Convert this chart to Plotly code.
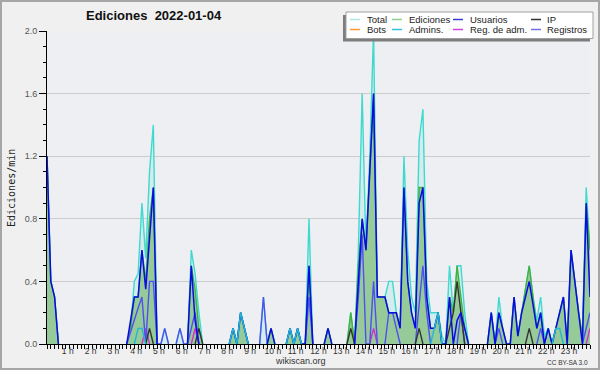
import plotly.graph_objects as go

# ---------------- data (edits per minute, 10-minute slots, 2022-01-04) ----------------
slots = list(range(144))                      # 00:00 ... 23:50, one slot = 10 min
hour_ticks = list(range(1, 24))
hour_labels = [f"{h} h" for h in hour_ticks]

total = [
    1.2, 0.4, 0.3, 0, 0, 0,
    0, 0, 0, 0, 0, 0,
    0, 0, 0, 0, 0, 0,
    0, 0, 0, 0, 0.1, 0.4,
    0.45, 0.9, 0.55, 1.1, 1.4, 0,
    0, 0.1, 0, 0, 0, 0.1,
    0, 0, 0.6, 0.45, 0.2, 0,
    0, 0, 0, 0, 0, 0,
    0, 0.1, 0, 0.2, 0.1, 0,
    0, 0, 0, 0.3, 0, 0.1,
    0, 0, 0, 0, 0.1, 0,
    0.1, 0, 0, 0.8, 0, 0,
    0, 0, 0.1, 0, 0, 0,
    0, 0, 0.2, 0, 0.6, 1.6,
    0.6, 1.2, 2.0, 0.3, 0.3, 0.3,
    0.4, 0.4, 0.2, 0.1, 1.2, 0.6,
    0.3, 0.2, 1.3, 1.5, 0.4, 0.2,
    0.2, 0.2, 0.05, 0, 0.5, 0.2,
    0.5, 0.5, 0.2, 0, 0, 0,
    0, 0, 0, 0.2, 0, 0.3,
    0.1, 0, 0, 0.3, 0.05, 0.2,
    0.35, 0.5, 0.3, 0.15, 0.3, 0.05,
    0.1, 0, 0.1, 0.2, 0.3, 0,
    0.6, 0.4, 0.2, 0.05, 1.0, 0.6,
]
ediciones = [
    1.2, 0.4, 0.3, 0, 0, 0,
    0, 0, 0, 0, 0, 0,
    0, 0, 0, 0, 0, 0,
    0, 0, 0, 0, 0.1, 0.3,
    0.3, 0.6, 0.4, 0.8, 1.0, 0,
    0, 0, 0, 0, 0, 0,
    0, 0, 0.5, 0.35, 0.1, 0,
    0, 0, 0, 0, 0, 0,
    0, 0.1, 0, 0.2, 0.1, 0,
    0, 0, 0, 0, 0, 0.1,
    0, 0, 0, 0, 0.1, 0,
    0.1, 0, 0, 0.5, 0, 0,
    0, 0, 0.1, 0, 0, 0,
    0, 0, 0.2, 0, 0.5, 0.8,
    0.6, 1.1, 1.6, 0.3, 0.3, 0.3,
    0.2, 0.2, 0.2, 0.1, 1.0, 0.4,
    0.2, 0.1, 1.0, 1.0, 0.3, 0.1,
    0.1, 0.2, 0, 0, 0.3, 0.2,
    0.5, 0.3, 0.1, 0, 0, 0,
    0, 0, 0, 0.2, 0, 0.2,
    0.1, 0, 0, 0.3, 0.05, 0.2,
    0.35, 0.5, 0.3, 0.1, 0.2, 0,
    0.1, 0, 0.1, 0.2, 0.3, 0,
    0.6, 0.4, 0.2, 0.05, 0.9, 0.6,
]
usuarios = [
    1.2, 0.4, 0.3, 0, 0, 0,
    0, 0, 0, 0, 0, 0,
    0, 0, 0, 0, 0, 0,
    0, 0, 0, 0, 0.15, 0.3,
    0.3, 0.6, 0.35, 0.7, 1.0, 0,
    0, 0, 0, 0, 0, 0,
    0, 0, 0.5, 0.15, 0, 0,
    0, 0, 0, 0, 0, 0,
    0, 0.1, 0, 0.2, 0.1, 0,
    0, 0, 0, 0, 0, 0.1,
    0, 0, 0, 0, 0.1, 0,
    0.1, 0, 0, 0.5, 0, 0,
    0, 0, 0.1, 0, 0, 0,
    0, 0, 0, 0, 0.4, 0.8,
    0.6, 1.1, 1.6, 0.3, 0.3, 0.3,
    0.2, 0.2, 0.2, 0.1, 1.0, 0.4,
    0.2, 0.1, 0.9, 1.0, 0.3, 0.1,
    0.1, 0.2, 0, 0, 0.3, 0,
    0.15, 0.2, 0.1, 0, 0, 0,
    0, 0, 0, 0.2, 0, 0.2,
    0.1, 0, 0, 0.3, 0.05, 0.2,
    0.3, 0.4, 0.25, 0.1, 0.2, 0,
    0.1, 0, 0.1, 0.2, 0.3, 0,
    0.6, 0.4, 0.2, 0, 0.9, 0.3,
]
ip = [0] * 144
ip_nonzero = {27: 0.1, 40: 0.1, 80: 0.1, 98: 0.1, 106: 0.1, 107: 0.2, 108: 0.4, 109: 0.2, 127: 0.1}
bots = [0] * 144
admins = [0] * 144
admins_nonzero = {24: 0.1, 25: 0.1, 49: 0.1, 51: 0.2, 52: 0.1, 64: 0.1, 66: 0.1,
                  102: 0.1, 103: 0.2, 134: 0.1, 135: 0.1}
reg_adm = [0] * 144
reg_adm_nonzero = {26: 0.1, 39: 0.1, 86: 0.1, 143: 0.1}
registros = [0] * 144
registros_nonzero = {22: 0.08, 23: 0.15, 24: 0.23, 25: 0.3, 27: 0.4, 28: 0.4, 31: 0.1, 35: 0.1,
                     38: 0.1, 39: 0.2, 57: 0.3, 69: 0.3, 82: 0.3, 83: 0.7, 86: 0.4, 90: 0.2,
                     91: 0.2, 92: 0.1, 98: 0.25, 99: 0.5, 100: 0.2, 109: 0.2, 119: 0.1,
                     130: 0.1, 142: 0.1, 143: 0.2}
for k, v in ip_nonzero.items():
    ip[k] = v
for k, v in admins_nonzero.items():
    admins[k] = v
for k, v in reg_adm_nonzero.items():
    reg_adm[k] = v
for k, v in registros_nonzero.items():
    registros[k] = v

legend_names = ["Total", "Ediciones", "Usuarios", "IP", "Bots", "Admins.", "Reg. de adm.", "Registros"]

# ---------------- helpers ----------------
hours = [s / 6 for s in slots]
L, R, T, B = 47, 10, 31, 26
W, H = 600, 370
PW, PH = W - L - R, H - T - B


def px(xp):
    return (xp - L) / PW


def py(yp):
    return (H - B - yp) / PH


def mask(v):
    out = []
    n = len(v)
    for i in range(n):
        left = v[i - 1] if i > 0 else 0
        right = v[i + 1] if i < n - 1 else 0
        out.append(None if (v[i] == 0 and left == 0 and right == 0) else v[i])
    return out


fig = go.Figure()

fig.add_trace(go.Scatter(x=hours, y=mask(total), name="Total", mode="lines",
                         line=dict(color="#3fd9cf", width=1.4), fill="tozeroy",
                         fillcolor="#d5ecef", connectgaps=False))
fig.add_trace(go.Scatter(x=hours, y=mask(ediciones), name="Ediciones", mode="lines",
                         line=dict(color="#3fb23f", width=1.4), fill="tozeroy",
                         fillcolor="#96ca98", connectgaps=False))
fig.add_trace(go.Scatter(x=hours, y=mask(bots), name="Bots", mode="lines",
                         line=dict(color="#ff9933", width=1.4)))
fig.add_trace(go.Scatter(x=hours, y=mask(reg_adm), name="Reg. de adm.", mode="lines",
                         line=dict(color="#cc33cc", width=1.4)))
fig.add_trace(go.Scatter(x=hours, y=mask(registros), name="Registros", mode="lines",
                         line=dict(color="#5050f0", width=1.4)))
fig.add_trace(go.Scatter(x=hours, y=mask(ip), name="IP", mode="lines",
                         line=dict(color="#333333", width=1.4)))
fig.add_trace(go.Scatter(x=hours, y=mask(usuarios), name="Usuarios", mode="lines",
                         line=dict(color="#0a0ae6", width=1.5)))
fig.add_trace(go.Scatter(x=hours, y=mask(admins), name="Admins.", mode="lines",
                         line=dict(color="#1fb8da", width=1.4)))

fig.update_layout(
    width=W, height=H, showlegend=False,
    margin=dict(l=L, r=R, t=T, b=B, pad=0),
    paper_bgcolor="#f0f0f0", plot_bgcolor="#eeeff2",
    font=dict(family="Liberation Sans, Arial, sans-serif", color="#333"),
)
fig.update_xaxes(
    range=[0, hours[-1]], showgrid=False, zeroline=False,
    showline=True, linecolor="#000", linewidth=1,
    tickmode="array", tickvals=hour_ticks, ticktext=hour_labels,
    ticks="outside", ticklen=4, tickcolor="#000", tickwidth=1,
    tickfont=dict(size=8.5, color="#333"), ticklabelshift=-2, ticklabelstandoff=-5,
    minor=dict(tickmode="linear", tick0=0, dtick=1 / 6, ticks="outside", ticklen=4,
               tickcolor="#000", tickwidth=1, showgrid=False),
)
fig.update_yaxes(
    range=[0, 2.0], dtick=0.4, tick0=0, tickformat=".1f",
    showgrid=True, gridcolor="#cccccc", gridwidth=1, zeroline=False,
    showline=True, linecolor="#000", linewidth=1,
    ticks="outside", ticklen=7, tickcolor="#000", tickwidth=1,
    tickfont=dict(size=9, color="#555"),
    minor=dict(dtick=0.1, ticks="outside", ticklen=3, tickcolor="#000", tickwidth=1, showgrid=False),
)

shapes = []
annotations = []
# outer frame
shapes.append(dict(type="rect", xref="paper", yref="paper", x0=px(1), x1=px(599), y0=py(369), y1=py(1),
                   line=dict(color="#a6a6a6", width=2), fillcolor="rgba(0,0,0,0)", layer="above"))
# legend box with shadow
shapes.append(dict(type="rect", xref="paper", yref="paper", x0=px(343), x1=px(590), y0=py(41.5), y1=py(15),
                   line=dict(width=0), fillcolor="#7d7d7d", layer="above"))
shapes.append(dict(type="rect", xref="paper", yref="paper", x0=px(346), x1=px(593), y0=py(38.5), y1=py(12),
                   line=dict(color="#a0a0a0", width=1), fillcolor="#ffffff", layer="above"))
legend_colors = ["#aee6e3", "#8fd08f", "#3a3ad8", "#333333", "#ff9933", "#33c2e0", "#cc44dd", "#7373e6"]
col_sample = [350, 392, 453, 531]
col_text = [365, 407, 468, 545]
row_y = [19.5, 29.5]
for k, name in enumerate(legend_names):
    r, c = divmod(k, 4)
    shapes.append(dict(type="line", xref="paper", yref="paper",
                       x0=px(col_sample[c]), x1=px(col_sample[c] + 10),
                       y0=py(row_y[r]), y1=py(row_y[r]),
                       line=dict(color=legend_colors[k], width=1.5), layer="above"))
    annotations.append(dict(text=name, xref="paper", yref="paper", x=px(col_text[c]), y=py(row_y[r]),
                            xanchor="left", yanchor="middle", showarrow=False,
                            font=dict(size=9.5, color="#222", family="Liberation Sans, Arial, sans-serif")))

annotations.append(dict(text="<b>Ediciones \u00a02022-01-04</b>", xref="paper", yref="paper",
                        x=px(154), y=py(16), xanchor="center", yanchor="middle", showarrow=False,
                        font=dict(size=13, color="#111", family="Liberation Sans, Arial, sans-serif")))
annotations.append(dict(text="Ediciones/min", xref="paper", yref="paper", x=px(11), y=py(188),
                        xanchor="center", yanchor="middle", textangle=-90, showarrow=False,
                        font=dict(size=10, color="#222", family="DejaVu Sans Mono, monospace")))
annotations.append(dict(text="wikiscan.org", xref="paper", yref="paper", x=px(300.5), y=py(361.5),
                        xanchor="center", yanchor="middle", showarrow=False,
                        font=dict(size=9, color="#333", family="Liberation Sans, Arial, sans-serif")))
annotations.append(dict(text="CC BY-SA 3.0", xref="paper", yref="paper", x=px(589.5), y=py(362.5),
                        xanchor="right", yanchor="middle", showarrow=False,
                        font=dict(size=6.5, color="#333", family="Liberation Sans, Arial, sans-serif")))

fig.update_layout(shapes=shapes, annotations=annotations)
fig.write_html("out.html")
